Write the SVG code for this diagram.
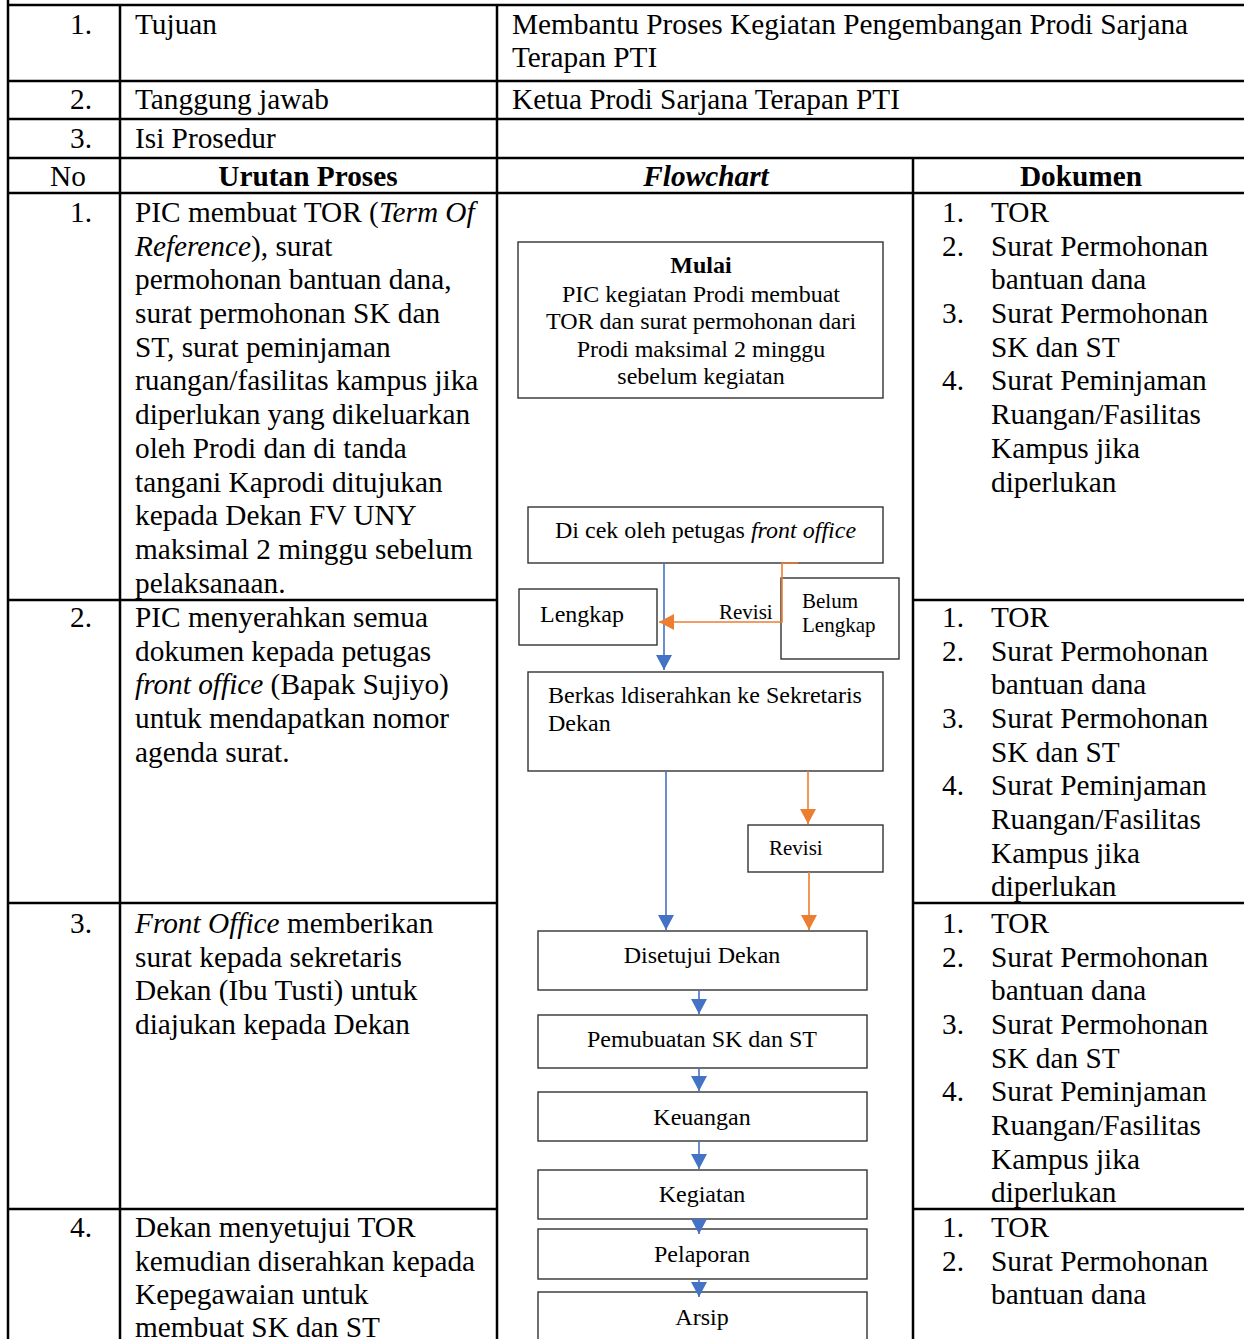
<svg xmlns="http://www.w3.org/2000/svg" width="1244" height="1339" viewBox="0 0 1244 1339">
<style>
  text { font-family: "Liberation Serif", "Times New Roman", serif; fill: #000; }
  .t { font-size: 29.3px; }
  .n { font-size: 29.3px; text-anchor: end; }
  .b { font-weight: bold; }
  .i { font-style: italic; }
  .c { text-anchor: middle; }
  .f { font-size: 24px; }
  .s { font-size: 21px; }
  .grid line { stroke: #000; stroke-width: 2.5; }
  .box { fill: #fff; stroke: #333; stroke-width: 1.4; }
  .blue { fill: none; stroke: #4472C4; stroke-width: 1.6; }
  .orange { fill: none; stroke: #ED7D31; stroke-width: 1.6; }
</style>
<defs>
  <marker id="ab" markerUnits="userSpaceOnUse" markerWidth="16" markerHeight="16" refX="15" refY="8" orient="auto">
    <path d="M0,0 L15,8 L0,16 z" fill="#4472C4"/>
  </marker>
  <marker id="ao" markerUnits="userSpaceOnUse" markerWidth="16" markerHeight="16" refX="15" refY="8" orient="auto">
    <path d="M0,0 L15,8 L0,16 z" fill="#ED7D31"/>
  </marker>
</defs>
<rect width="1244" height="1339" fill="#fff"/>

<g id="table-grid" class="grid">
  <line x1="8" y1="0" x2="8" y2="1339"/>
  <line x1="120" y1="5" x2="120" y2="1339"/>
  <line x1="497" y1="5" x2="497" y2="1339"/>
  <line x1="913" y1="158" x2="913" y2="1339"/>
  <line x1="7" y1="5" x2="1244" y2="5"/>
  <line x1="7" y1="81" x2="1244" y2="81"/>
  <line x1="7" y1="119" x2="1244" y2="119"/>
  <line x1="7" y1="158" x2="1244" y2="158"/>
  <line x1="7" y1="193" x2="1244" y2="193"/>
  <line x1="7" y1="600" x2="497" y2="600"/>
  <line x1="913" y1="600" x2="1244" y2="600"/>
  <line x1="7" y1="903" x2="497" y2="903"/>
  <line x1="913" y1="903" x2="1244" y2="903"/>
  <line x1="7" y1="1209" x2="497" y2="1209"/>
  <line x1="913" y1="1209" x2="1244" y2="1209"/>
</g>

<g id="header-rows">
  <text class="n" x="92" y="34">1.</text>
  <text class="t" x="135" y="34">Tujuan</text>
  <text class="t" x="512" y="34">Membantu Proses Kegiatan Pengembangan Prodi Sarjana</text>
  <text class="t" x="512" y="67">Terapan PTI</text>
  <text class="n" x="92" y="109">2.</text>
  <text class="t" x="135" y="109">Tanggung jawab</text>
  <text class="t" x="512" y="109">Ketua Prodi Sarjana Terapan PTI</text>
  <text class="n" x="92" y="148">3.</text>
  <text class="t" x="135" y="148">Isi Prosedur</text>
  <text class="t c" x="68" y="186">No</text>
  <text class="t c b" x="308" y="186">Urutan Proses</text>
  <text class="t c b i" x="706" y="186">Flowchart</text>
  <text class="t c b" x="1081" y="186">Dokumen</text>
</g>

<g id="row-1">
  <text class="n" x="92" y="222">1.</text>
  <text class="t" x="135" y="222">PIC membuat TOR (<tspan class="i">Term Of</tspan></text>
  <text class="t" x="135" y="256"><tspan class="i">Reference</tspan>), surat</text>
  <text class="t" x="135" y="289">permohonan bantuan dana,</text>
  <text class="t" x="135" y="323">surat permohonan SK dan</text>
  <text class="t" x="135" y="357">ST, surat peminjaman</text>
  <text class="t" x="135" y="390">ruangan/fasilitas kampus jika</text>
  <text class="t" x="135" y="424">diperlukan yang dikeluarkan</text>
  <text class="t" x="135" y="458">oleh Prodi dan di tanda</text>
  <text class="t" x="135" y="492">tangani Kaprodi ditujukan</text>
  <text class="t" x="135" y="525">kepada Dekan FV UNY</text>
  <text class="t" x="135" y="559">maksimal 2 minggu sebelum</text>
  <text class="t" x="135" y="593">pelaksanaan.</text>
  <text class="n" x="964" y="222">1.</text><text class="t" x="991" y="222">TOR</text>
  <text class="n" x="964" y="256">2.</text><text class="t" x="991" y="256">Surat Permohonan</text>
  <text class="t" x="991" y="289">bantuan dana</text>
  <text class="n" x="964" y="323">3.</text><text class="t" x="991" y="323">Surat Permohonan</text>
  <text class="t" x="991" y="357">SK dan ST</text>
  <text class="n" x="964" y="390">4.</text><text class="t" x="991" y="390">Surat Peminjaman</text>
  <text class="t" x="991" y="424">Ruangan/Fasilitas</text>
  <text class="t" x="991" y="458">Kampus jika</text>
  <text class="t" x="991" y="492">diperlukan</text>
</g>

<g id="row-2">
  <text class="n" x="92" y="627">2.</text>
  <text class="t" x="135" y="627">PIC menyerahkan semua</text>
  <text class="t" x="135" y="661">dokumen kepada petugas</text>
  <text class="t" x="135" y="694"><tspan class="i">front office</tspan> (Bapak Sujiyo)</text>
  <text class="t" x="135" y="728">untuk mendapatkan nomor</text>
  <text class="t" x="135" y="762">agenda surat.</text>
  <text class="n" x="964" y="627">1.</text><text class="t" x="991" y="627">TOR</text>
  <text class="n" x="964" y="661">2.</text><text class="t" x="991" y="661">Surat Permohonan</text>
  <text class="t" x="991" y="694">bantuan dana</text>
  <text class="n" x="964" y="728">3.</text><text class="t" x="991" y="728">Surat Permohonan</text>
  <text class="t" x="991" y="762">SK dan ST</text>
  <text class="n" x="964" y="795">4.</text><text class="t" x="991" y="795">Surat Peminjaman</text>
  <text class="t" x="991" y="829">Ruangan/Fasilitas</text>
  <text class="t" x="991" y="863">Kampus jika</text>
  <text class="t" x="991" y="896">diperlukan</text>
</g>

<g id="row-3">
  <text class="n" x="92" y="933">3.</text>
  <text class="t" x="135" y="933"><tspan class="i">Front Office</tspan> memberikan</text>
  <text class="t" x="135" y="967">surat kepada sekretaris</text>
  <text class="t" x="135" y="1000">Dekan (Ibu Tusti) untuk</text>
  <text class="t" x="135" y="1034">diajukan kepada Dekan</text>
  <text class="n" x="964" y="933">1.</text><text class="t" x="991" y="933">TOR</text>
  <text class="n" x="964" y="967">2.</text><text class="t" x="991" y="967">Surat Permohonan</text>
  <text class="t" x="991" y="1000">bantuan dana</text>
  <text class="n" x="964" y="1034">3.</text><text class="t" x="991" y="1034">Surat Permohonan</text>
  <text class="t" x="991" y="1068">SK dan ST</text>
  <text class="n" x="964" y="1101">4.</text><text class="t" x="991" y="1101">Surat Peminjaman</text>
  <text class="t" x="991" y="1135">Ruangan/Fasilitas</text>
  <text class="t" x="991" y="1169">Kampus jika</text>
  <text class="t" x="991" y="1202">diperlukan</text>
</g>

<g id="row-4">
  <text class="n" x="92" y="1237">4.</text>
  <text class="t" x="135" y="1237">Dekan menyetujui TOR</text>
  <text class="t" x="135" y="1271">kemudian diserahkan kepada</text>
  <text class="t" x="135" y="1304">Kepegawaian untuk</text>
  <text class="t" x="135" y="1337">membuat SK dan ST</text>
  <text class="n" x="964" y="1237">1.</text><text class="t" x="991" y="1237">TOR</text>
  <text class="n" x="964" y="1271">2.</text><text class="t" x="991" y="1271">Surat Permohonan</text>
  <text class="t" x="991" y="1304">bantuan dana</text>
</g>

<g id="node-mulai">
  <rect class="box" x="518" y="242" width="365" height="156"/>
  <text class="f c b" x="701" y="273">Mulai</text>
  <text class="f c" x="701" y="302">PIC kegiatan Prodi membuat</text>
  <text class="f c" x="701" y="329">TOR dan surat permohonan dari</text>
  <text class="f c" x="701" y="357">Prodi maksimal 2 minggu</text>
  <text class="f c" x="701" y="384">sebelum kegiatan</text>
</g>
<g id="node-cek">
  <rect class="box" x="528" y="507" width="355" height="56"/>
  <text class="f" x="555" y="538">Di cek oleh petugas <tspan class="i">front office</tspan></text>
</g>
<g id="node-lengkap">
  <rect class="box" x="519" y="589" width="138" height="56"/>
  <text class="f" x="540" y="622">Lengkap</text>
</g>
<g id="node-belum">
  <rect class="box" x="781" y="578" width="118" height="81"/>
  <text class="s" x="802" y="608">Belum</text>
  <text class="s" x="802" y="632">Lengkap</text>
</g>
<g id="node-berkas">
  <rect class="box" x="528" y="672" width="355" height="99"/>
  <text class="f" x="548" y="703">Berkas ldiserahkan ke Sekretaris</text>
  <text class="f" x="548" y="731">Dekan</text>
</g>
<g id="node-revisi">
  <rect class="box" x="748" y="825" width="135" height="47"/>
  <text class="s" x="769" y="855">Revisi</text>
</g>
<g id="node-disetujui">
  <rect class="box" x="538" y="931" width="329" height="59"/>
  <text class="f c" x="702" y="963">Disetujui Dekan</text>
</g>
<g id="node-sk">
  <rect class="box" x="538" y="1015" width="329" height="53"/>
  <text class="f c" x="702" y="1047">Pemubuatan SK dan ST</text>
</g>
<g id="node-keuangan">
  <rect class="box" x="538" y="1092" width="329" height="49"/>
  <text class="f c" x="702" y="1125">Keuangan</text>
</g>
<g id="node-kegiatan">
  <rect class="box" x="538" y="1170" width="329" height="49"/>
  <text class="f c" x="702" y="1202">Kegiatan</text>
</g>
<g id="node-pelaporan">
  <rect class="box" x="538" y="1229" width="329" height="50"/>
  <text class="f c" x="702" y="1262">Pelaporan</text>
</g>
<g id="node-arsip">
  <rect class="box" x="538" y="1292" width="329" height="60"/>
  <text class="f c" x="702" y="1325">Arsip</text>
</g>

<g id="connectors">
  <path class="blue" d="M664,563 V670" marker-end="url(#ab)"/>
  <path class="orange" d="M798,563 H782 V622 H659" marker-end="url(#ao)"/>
  <text class="s" x="719" y="619">Revisi</text>
  <path class="blue" d="M666,771 V930" marker-end="url(#ab)"/>
  <path class="orange" d="M808,771 V824" marker-end="url(#ao)"/>
  <path class="orange" d="M809,872 V930" marker-end="url(#ao)"/>
  <path class="blue" d="M699,990 V1014" marker-end="url(#ab)"/>
  <path class="blue" d="M699,1068 V1091" marker-end="url(#ab)"/>
  <path class="blue" d="M699,1141 V1169" marker-end="url(#ab)"/>
  <path class="blue" d="M699,1219 V1234" marker-end="url(#ab)"/>
  <path class="blue" d="M699,1279 V1297" marker-end="url(#ab)"/>
</g>
</svg>
